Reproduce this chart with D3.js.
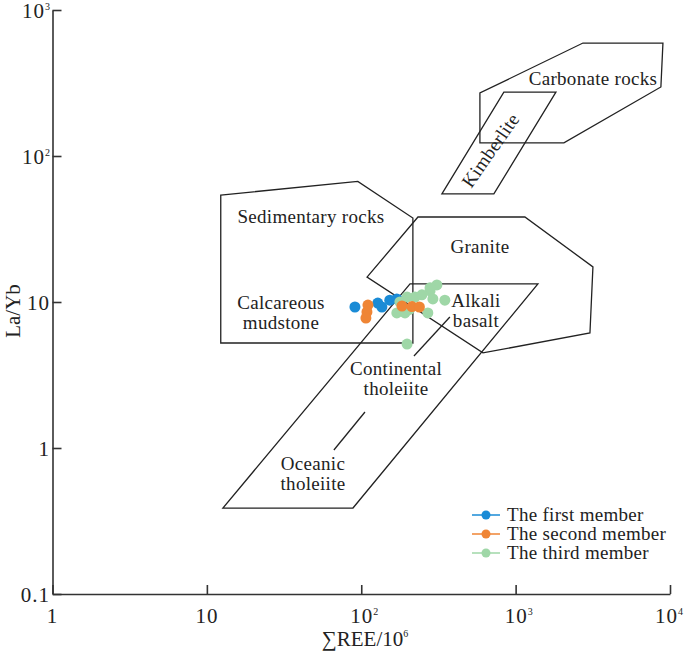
<!DOCTYPE html>
<html><head><meta charset="utf-8">
<script src="https://cdn.jsdelivr.net/npm/d3@7"></script>
<style>
body{margin:0;background:#fff;}
text{font-family:"Liberation Serif","Times New Roman",serif;fill:#222;}
</style></head>
<body><svg id="c" width="685" height="660"></svg>
<script>
// ---- data (ΣREE in ppm, La/Yb) ----
const firstX  = [91, 128, 136, 153, 170];
const firstY  = [9.24, 9.84, 9.24, 10.3, 10.5];
const secondX = [110.5, 108.9, 107.2, 183.5, 213, 238];
const secondY = [9.53, 8.54, 7.76, 9.39, 9.3, 9.24];
const thirdX  = [198, 223, 247, 279, 309, 291, 348, 170, 192, 270, 198, 178, 205, 279];
const thirdY  = [10.8, 10.8, 11.2, 11.9, 13.1, 10.5, 10.3, 8.41, 8.41, 8.41, 5.15, 10.0, 8.9, 12.5];
const seriesNames = ["The first member", "The second member", "The third member"];

// field polygons (ΣREE, La/Yb)
const carbonateField   = [[2730,594],[9000,594],[8730,297],[2055,123],[587,123],[587,270]];
const kimberliteField  = [[839,274],[1824,274],[723,55],[333,55]];
const sedimentaryField = [[12.3,54],[95,67],[216,37.6],[216,5.24],[12.3,5.24]];
const graniteField     = [[109,14.8],[233,38.2],[1148,38.2],[3168,17.4],[3030,6.14],[614,4.48]];
const basaltField      = [[207,13.3],[1394,13.3],[88.4,0.388],[12.7,0.388]];
const dividerA = [[375,7.89],[219.5,4.27]];
const dividerB = [[105.7,1.765],[66.5,0.969]];

// field labels: [lines, ΣREE, La/Yb, rotation]
const fieldLabels = [
  [["Carbonate rocks"], 3168, 306, 0],
  [["Kimberlite"], 682, 110, -55],
  [["Sedimentary rocks"], 47.2, 34.7, 0],
  [["Granite"], 587, 21.7, 0],
  [["Calcareous","mudstone"], 30.2, 8.95, 0],
  [["Alkali","basalt"], 553, 9.24, 0],
  [["Continental","tholeiite"], 168, 3.16, 0],
  [["Oceanic","tholeiite"], 48.7, 0.707, 0]
];

const xTicks = [1, 10, 100, 1000, 10000];
const xTickLabels = [["1",""],["10",""],["10","2"],["10","3"],["10","4"]];
const yTicks = [0.1, 1, 10, 100, 1000];
const yTickLabels = [["0.1",""],["1",""],["10",""],["10","2"],["10","3"]];

// ---- drawing ----
const colors = ["#1a8bd6", "#ef8535", "#9fd7a7"];
const svg = d3.select("#c");
const x = d3.scaleLog().domain([1, 10000]).range([52.5, 670]);
const y = d3.scaleLog().domain([0.1, 1000]).range([594, 10]);

const line = d3.line().x(d => x(d[0])).y(d => y(d[1]));
const g = svg.append("g");
[carbonateField, kimberliteField, sedimentaryField, graniteField, basaltField].forEach(p => {
  g.append("path").attr("d", line(p) + "Z").attr("fill", "none")
    .attr("stroke", "#222").attr("stroke-width", 1.3);
});
[dividerA, dividerB].forEach(p => {
  g.append("path").attr("d", line(p)).attr("fill", "none")
    .attr("stroke", "#222").attr("stroke-width", 1.3);
});

fieldLabels.forEach(([lines, lx, ly, rot]) => {
  const t = svg.append("text").attr("font-size", 19).attr("text-anchor", "middle")
    .attr("letter-spacing", 0.3)
    .attr("transform", `translate(${x(lx)},${y(ly)}) rotate(${rot})`);
  if (rot !== 0) t.attr("dominant-baseline", "central");
  lines.forEach((s, i) => t.append("tspan").attr("x", 0).attr("y", i * 20).text(s));
});

// axes
const xAxis = d3.axisBottom(x).tickValues(xTicks).tickFormat("").tickSizeInner(-9).tickSizeOuter(0);
const yAxis = d3.axisLeft(y).tickValues(yTicks).tickFormat("").tickSizeInner(-9).tickSizeOuter(0);
const gx = svg.append("g").attr("transform", "translate(0,594)").call(xAxis);
const gy = svg.append("g").attr("transform", "translate(52.5,0)").call(yAxis);
[gx, gy].forEach(a => {
  a.selectAll("path,line").attr("stroke", "#333").attr("stroke-width", 1.6);
});

function supLabel(sel, base, sup) {
  sel.append("tspan").text(base);
  if (sup) sel.append("tspan").attr("font-size", 10).attr("letter-spacing", 0).attr("dy", -8).text(sup);
}
xTicks.forEach((v, i) => {
  const last = i === xTicks.length - 1;
  const t = svg.append("text").attr("font-size", 21)
    .attr("text-anchor", last ? "end" : "middle")
    .attr("letter-spacing", 1)
    .attr("x", last ? 683 : x(v) + (xTickLabels[i][1] ? 3 : 0)).attr("y", 623);
  supLabel(t, xTickLabels[i][0], xTickLabels[i][1]);
});
yTicks.forEach((v, i) => {
  const t = svg.append("text").attr("font-size", 21).attr("text-anchor", "end")
    .attr("letter-spacing", 1)
    .attr("x", 50).attr("y", y(v) + 8);
  supLabel(t, yTickLabels[i][0], yTickLabels[i][1]);
});

// axis titles
svg.append("text").attr("font-size", 21).attr("text-anchor", "middle")
  .attr("transform", "translate(20,311) rotate(-90)").text("La/Yb");
const xt = svg.append("text").attr("font-size", 21).attr("text-anchor", "middle")
  .attr("x", 365).attr("y", 646);
xt.append("tspan").text("∑REE/10");
xt.append("tspan").attr("font-size", 10).attr("dy", -9).text("6");

// points
const series = [[firstX, firstY], [secondX, secondY], [thirdX, thirdY]];
const drawOrder = [0, 2, 1];
drawOrder.forEach(k => {
  const [xs, ys] = series[k];
  svg.append("g").selectAll("circle").data(xs.map((v, i) => [v, ys[i]])).join("circle")
    .attr("cx", d => x(d[0])).attr("cy", d => y(d[1])).attr("r", 5.5).attr("fill", colors[k]);
});

// legend
seriesNames.forEach((name, i) => {
  const ly = 515 + i * 19;
  svg.append("line").attr("x1", 472).attr("x2", 500).attr("y1", ly).attr("y2", ly)
    .attr("stroke", colors[i]).attr("stroke-width", 1.5);
  svg.append("circle").attr("cx", 486).attr("cy", ly).attr("r", 4.5).attr("fill", colors[i]);
  svg.append("text").attr("font-size", 19).attr("letter-spacing", 0.3)
    .attr("x", 507).attr("y", ly + 6).text(name);
});
</script></body></html>
